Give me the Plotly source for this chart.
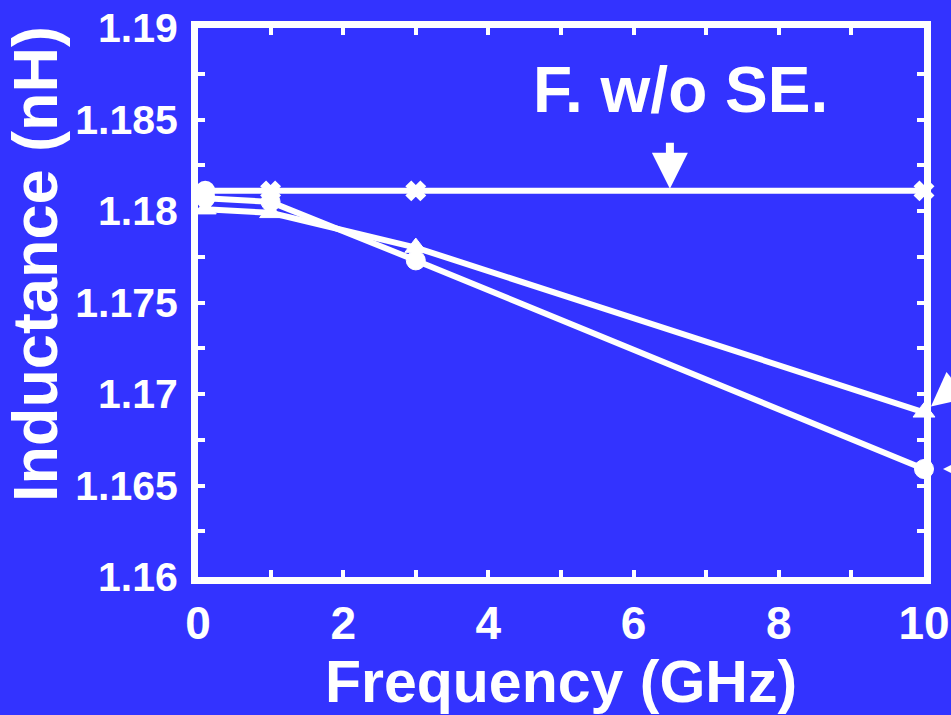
import plotly.graph_objects as go

# Data
freq_ghz = [0.1, 1, 3, 10]
L_without_se = [1.1811, 1.1811, 1.1811, 1.1811]
L_circle = [1.1807, 1.1805, 1.1773, 1.1659]
L_triangle = [1.1801, 1.1799, 1.1780, 1.1690]

x_tickvals = [0, 1, 2, 3, 4, 5, 6, 7, 8, 9, 10]
x_ticktext = ["0", "", "2", "", "4", "", "6", "", "8", "", "10"]
y_tickvals = [1.16, 1.1625, 1.165, 1.1675, 1.17, 1.1725, 1.175, 1.1775,
              1.18, 1.1825, 1.185, 1.1875, 1.19]
y_ticktext = ["1.16", "", "1.165", "", "1.17", "", "1.175", "",
              "1.18", "", "1.185", "", "1.19"]

BG = "#3333ff"
W = "white"
FONT = "Liberation Sans"

fig = go.Figure()
fig.add_trace(go.Scatter(
    x=freq_ghz, y=L_without_se, mode="lines+markers", name="F. w/o SE.",
    line=dict(color=W, width=6),
    marker=dict(symbol=["circle", "x", "x", "x"], size=[18, 16, 16, 16],
                color=W, opacity=1, line=dict(color=W, width=2)),
    cliponaxis=False,
))
fig.add_trace(go.Scatter(
    x=freq_ghz, y=L_circle, mode="lines+markers", name="circle",
    line=dict(color=W, width=6),
    marker=dict(symbol="circle", size=19, color=W, opacity=1,
                line=dict(color=W, width=1)),
    cliponaxis=False,
))
fig.add_trace(go.Scatter(
    x=freq_ghz, y=L_triangle, mode="lines+markers", name="triangle",
    line=dict(color=W, width=6),
    marker=dict(symbol="triangle-up", size=19, color=W, opacity=1,
                line=dict(color=W, width=1)),
    cliponaxis=False,
))

fig.update_layout(
    width=951, height=715,
    margin=dict(l=198, r=27, t=28, b=138, autoexpand=False),
    paper_bgcolor=BG, plot_bgcolor=BG,
    showlegend=False,
    font=dict(family=FONT, color=W, weight="bold"),
    xaxis=dict(
        range=[0, 10], tickvals=x_tickvals, ticktext=x_ticktext,
        automargin=False,
        showgrid=False, zeroline=False,
        showline=True, linecolor=W, linewidth=7, mirror="ticks",
        ticks="inside", ticklen=7, tickwidth=4, tickcolor=W,
        tickfont=dict(size=46, family=FONT, color=W, weight="bold"),
        title=dict(text="Frequency (GHz)", standoff=4,
                   font=dict(size=59, family=FONT, color=W, weight="bold")),
    ),
    yaxis=dict(
        range=[1.16, 1.19], tickvals=y_tickvals, ticktext=y_ticktext,
        automargin=False,
        showgrid=False, zeroline=False,
        showline=True, linecolor=W, linewidth=7, mirror="ticks",
        ticks="inside", ticklen=7, tickwidth=4, tickcolor=W,
        ticklabelstandoff=5,
        tickfont=dict(size=41, family=FONT, color=W, weight="bold"),
    ),
    annotations=[
        dict(x=-0.2245, y=0.57, xref="paper", yref="paper", text="Inductance (nH)",
             textangle=-90, showarrow=False, xanchor="center", yanchor="middle",
             font=dict(size=63, family=FONT, color=W, weight="bold")),
        dict(x=6.65, y=1.1866, xref="x", yref="y", text="F. w/o SE.",
             showarrow=False, xanchor="center", yanchor="middle",
             font=dict(size=64, family=FONT, color=W, weight="bold")),
        dict(x=6.50, y=1.1811, xref="x", yref="y", text=" ",
             showarrow=True, ax=0, ay=-52, arrowhead=2, arrowsize=0.9,
             arrowwidth=8, arrowcolor=W, standoff=2,
             font=dict(size=4, family=FONT, color=W)),
        dict(x=10, y=1.1690, xref="x", yref="y", text=" ",
             showarrow=True, axref="x", ayref="y", ax=10.83, ay=1.1717,
             arrowhead=2, arrowsize=0.85,
             arrowwidth=8, arrowcolor=W, standoff=9,
             font=dict(size=20, family=FONT, color=W)),
        dict(x=10, y=1.1659, xref="x", yref="y", text=" ",
             showarrow=True, axref="x", ayref="y", ax=10.83, ay=1.1659,
             arrowhead=2, arrowsize=0.85,
             arrowwidth=8, arrowcolor=W, standoff=19,
             font=dict(size=20, family=FONT, color=W)),
    ],
)

fig.write_html("out.html")
